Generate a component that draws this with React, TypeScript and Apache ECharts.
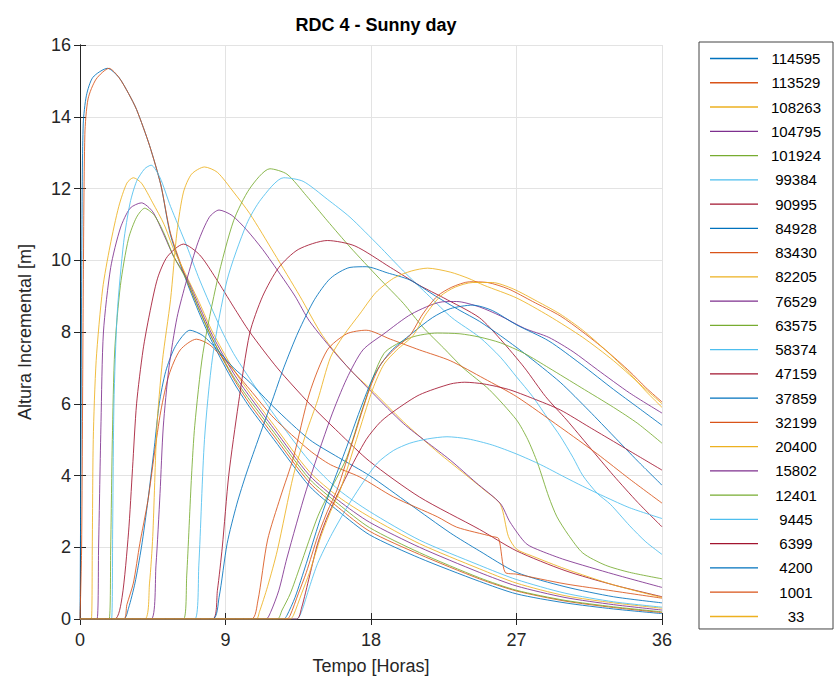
import React, { useEffect, useRef } from "react";
import * as echarts from "echarts";

// Series names (legend order) and colours
const seriesNames = [
  "114595", "113529", "108263", "104795", "101924", "99384", "90995", "84928",
  "83430", "82205", "76529", "63575", "58374", "47159", "37859", "32199",
  "20400", "15802", "12401", "9445", "6399", "4200", "1001", "33",
];
const palette = ["#0072BD", "#D95319", "#EDB120", "#7E2F8E", "#77AC30", "#4DBEEE", "#A2142F"];

const xTicks = [0, 9, 18, 27, 36];
const yTicks = [0, 2, 4, 6, 8, 10, 12, 14, 16];

// [time (h), height (m)]
const s114595 = [[0,0],[0.05,4],[0.12,11],[0.2,13.8],[0.4,14.6],[0.8,15.1],[1.7,15.35],[2.4,15.1],[3,14.65],[3.5,14.2],[4.3,13.2],[5,12.1],[5.6,10.7],[6.6,9.4],[7.4,8.5],[8.2,7.7],[9.5,6.6],[10.5,5.9],[12,5.0],[14.2,3.7],[16,3.0],[17.9,2.35],[21,1.7],[24.7,1.05],[27,0.7],[30,0.45],[33,0.28],[36,0.15]];
const s113529 = [[0,0],[0.1,2],[0.2,9],[0.3,13.5],[0.5,14.5],[1,15.05],[1.8,15.35],[2.4,15.1],[3,14.65],[3.5,14.2],[4.3,13.2],[5,12.1],[5.6,10.75],[6.6,9.45],[7.4,8.6],[8.2,7.8],[9.5,6.7],[10.5,6.0],[12,5.1],[14.2,3.8],[16,3.1],[17.9,2.45],[21,1.8],[24.7,1.12],[27,0.78],[30,0.5],[33,0.32],[36,0.18]];
const s108263 = [[0,0],[0.7,0],[0.76,2],[0.82,5],[1.0,7.2],[1.4,9.2],[1.86,10.4],[2.4,11.5],[2.9,12.15],[3.3,12.3],[3.8,12.15],[4.5,11.6],[5.2,11.0],[5.8,10.3],[6.6,9.55],[7.4,8.8],[8.2,8.0],[9.5,6.95],[10.5,6.3],[12,5.4],[14.2,4.1],[16,3.4],[17.9,2.85],[21,2.1],[24.7,1.4],[27,1.0],[30,0.65],[33,0.45],[36,0.3]];
const s104795 = [[0,0],[1.05,0],[1.15,2],[1.3,5.5],[1.45,8.0],[1.9,9.8],[2.5,10.9],[3.1,11.45],[3.8,11.6],[4.5,11.35],[5.2,10.7],[5.8,10.1],[6.6,9.5],[7.4,8.7],[8.2,7.9],[9.5,6.85],[10.5,6.2],[12,5.3],[14.2,4.0],[16,3.3],[17.9,2.7],[21,2.0],[24.7,1.3],[27,0.92],[30,0.6],[33,0.4],[36,0.25]];
const s101924 = [[0,0],[1.8,0],[1.9,2],[2.0,5.0],[2.15,7.5],[2.5,9.3],[3.0,10.6],[3.5,11.2],[4.0,11.45],[4.6,11.25],[5.2,10.75],[5.8,10.1],[6.6,9.45],[7.4,8.6],[8.2,7.8],[9.5,6.75],[10.5,6.1],[12,5.2],[14.2,3.9],[16,3.2],[17.9,2.55],[21,1.85],[24.7,1.15],[27,0.8],[30,0.52],[33,0.34],[36,0.2]];
const s99384 = [[0,0],[1.95,0],[2.02,2.5],[2.1,6.0],[2.3,8.5],[2.7,10.5],[3.1,11.6],[3.5,12.2],[4.0,12.55],[4.4,12.65],[4.95,12.3],[5.6,11.5],[6.6,10.4],[7.4,9.45],[8.7,8.1],[9.5,7.4],[10.5,6.7],[12,5.7],[14.2,4.4],[16,3.6],[17.9,3.0],[21,2.2],[24.7,1.5],[27,1.1],[30,0.72],[33,0.48],[36,0.33]];
const s90995 = [[0,0],[2.15,0],[2.6,0.6],[3.0,2.4],[3.25,4.2],[3.5,6.0],[3.9,7.5],[4.3,8.5],[4.8,9.5],[5.4,10.1],[6.4,10.45],[7.4,10.15],[8.4,9.5],[9.5,8.7],[10.5,8.0],[12.2,7.0],[14.2,6.0],[16,5.2],[17.9,4.4],[21,3.4],[24.7,2.5],[27,1.9],[30,1.35],[33,0.95],[36,0.62]];
const s84928 = [[0,0],[2.7,0],[3.0,0.3],[3.4,1.0],[3.8,2.0],[4.2,3.3],[4.6,4.8],[4.9,6.0],[5.3,6.9],[5.9,7.6],[6.8,8.05],[7.6,7.9],[8.5,7.5],[9.5,7.0],[10.5,6.6],[12,5.9],[14.2,5.0],[16,4.5],[17.9,4.0],[20.4,3.2],[22.9,2.4],[24.7,1.9],[27,1.3],[30,0.9],[33,0.62],[36,0.45]];
const s83430 = [[0,0],[2.7,0],[2.9,0.4],[3.3,1.0],[3.7,2.1],[4.2,3.3],[4.6,4.6],[5.0,5.8],[5.5,6.8],[6.2,7.5],[7.2,7.8],[8.0,7.65],[9,7.2],[10.5,6.4],[12,5.6],[14.2,4.7],[15.5,4.3],[17.3,3.96],[19.4,3.4],[22.1,2.85],[23.3,2.56],[25.5,2.3],[25.9,2.24],[26.3,1.3],[27,1.25],[30,0.98],[33,0.78],[36,0.58]];
const s82205 = [[0,0],[4.0,0],[4.3,1],[4.5,2.3],[4.75,5.3],[5.1,7.2],[5.6,8.9],[6.0,10.8],[6.4,11.9],[6.9,12.4],[7.7,12.6],[8.5,12.45],[9.5,11.9],[10.5,11.3],[12,10.2],[13.6,9.0],[15,7.9],[16.7,6.95],[18,6.4],[20,5.5],[22,4.7],[23.5,4.15],[25,3.6],[26,3.2],[26.5,2.3],[27,1.95],[28,1.75],[30,1.4],[33,0.95],[36,0.6]];
const s76529 = [[0,0],[4.4,0],[4.7,1.5],[4.95,3.5],[5.15,5.35],[5.5,7.0],[6.0,8.4],[6.6,9.45],[7.3,10.5],[8.0,11.2],[8.6,11.4],[9.4,11.25],[10.3,10.85],[11.3,10.3],[12.4,9.6],[13.3,9.0],[14.2,8.3],[16,7.3],[18.1,6.3],[20,5.45],[21.4,4.95],[22.9,4.43],[24.5,3.8],[26,3.22],[26.6,2.7],[27.6,2.1],[28.5,1.9],[30,1.65],[33,1.25],[36,0.88]];
const s63575 = [[0,0],[6.4,0],[6.6,1.2],[6.9,4],[7.1,5.4],[7.6,7.4],[8.5,9.45],[9.5,11.1],[10.5,12.0],[11.75,12.55],[12.8,12.4],[14,11.8],[15.3,11.1],[16.7,10.37],[18.5,9.5],[20,8.8],[21.2,8.14],[22.5,7.55],[23.7,7.0],[25.3,6.4],[27,5.55],[27.7,5.0],[28.3,4.35],[29,3.4],[29.5,2.85],[30.2,2.35],[31.1,1.84],[32.5,1.5],[34,1.3],[36,1.12]];
const s58374 = [[0,0],[7.1,0],[7.35,1.5],[7.7,5.0],[8.2,7.3],[9.1,9.45],[10.3,11.0],[11.2,11.7],[12.6,12.3],[13.8,12.2],[15.3,11.7],[16.7,11.2],[18.5,10.4],[20,9.7],[21.6,9.0],[23,8.4],[24.7,7.86],[26,7.3],[27,6.75],[28,6.2],[29,5.55],[29.7,5.1],[30.5,4.5],[31.1,4.0],[32,3.5],[32.8,3.2],[34,2.6],[35,2.15],[36,1.8]];
const s47159 = [[0,0],[8.2,0],[8.5,0.8],[8.8,2.0],[9.2,4.0],[9.8,6.0],[10.5,7.97],[11.3,9.0],[12.3,9.8],[13.5,10.3],[15.3,10.55],[17,10.4],[19.2,9.8],[21,9.3],[22.5,8.95],[24.7,8.4],[26,7.8],[27.5,7.0],[28.8,6.2],[30.1,5.55],[31.5,4.8],[33,4.0],[34.5,3.25],[36,2.57]];
const s37859 = [[0,0],[8.2,0],[8.6,0.6],[9.1,2.1],[9.7,3.2],[10.3,4.07],[11.1,5.1],[11.9,6.1],[12.6,7.0],[13.5,8.0],[14.5,8.9],[15.5,9.5],[16.7,9.8],[17.7,9.82],[19,9.65],[20.4,9.45],[22,9.0],[23.5,8.6],[24.7,8.3],[26,7.9],[27.5,7.4],[29.7,6.6],[31.5,5.8],[33,5.1],[34.5,4.4],[36,3.73]];
const s32199 = [[0,0],[10.6,0],[11.0,0.5],[11.6,2.2],[12.4,3.4],[13.2,4.5],[14.2,6.3],[15.3,7.5],[16.5,7.95],[17.7,8.05],[19.2,7.8],[21,7.5],[22.9,7.2],[25,6.7],[27,6.2],[29.7,5.35],[32,4.6],[34,3.9],[36,3.23]];
const s20400 = [[0,0],[10.9,0],[11.1,0.2],[11.6,0.9],[12.2,1.9],[13.2,4.0],[14.0,5.2],[14.7,6.1],[15.5,7.3],[16.3,7.9],[17.3,8.5],[18.3,9.1],[19.4,9.5],[20.5,9.7],[21.5,9.78],[22.9,9.67],[24,9.5],[25,9.3],[27,8.95],[29,8.45],[31.1,7.85],[33,7.2],[35,6.4],[36,6.0]];
const s15802 = [[0,0],[11.5,0],[11.8,0.2],[12.3,0.8],[12.8,1.7],[14,3.6],[15.5,5.6],[16.5,6.7],[17.5,7.5],[18.8,7.95],[20.5,8.5],[22.4,8.84],[23.3,8.85],[24.7,8.7],[26,8.45],[27.5,8.1],[29,7.85],[30.5,7.45],[32,6.95],[34,6.3],[36,5.74]];
const s12401 = [[0,0],[12.2,0],[12.5,0.25],[13.0,0.7],[13.6,1.45],[14.7,2.85],[15.5,3.6],[16.5,4.5],[17.5,5.9],[18.8,7.4],[20.5,7.85],[22.1,7.97],[23.5,7.95],[24.7,7.86],[26,7.7],[27.5,7.4],[29,7.0],[31,6.45],[33,5.9],[34.5,5.45],[36,4.9]];
const s9445 = [[0,0],[13.4,0],[13.7,0.2],[14.2,0.9],[14.7,1.55],[15.5,2.3],[16.5,3.1],[17.5,3.8],[18.4,4.35],[19.4,4.7],[20.4,4.9],[21.5,5.02],[22.7,5.08],[24,5.02],[25.5,4.85],[27,4.6],[28.5,4.3],[30,3.95],[31.1,3.7],[32.5,3.4],[34,3.1],[36,2.8]];
const s6399 = [[0,0],[13.4,0],[13.7,0.3],[14.2,1.2],[14.7,2.1],[15.3,2.85],[16.5,4.0],[17.7,5.0],[18.6,5.5],[19.6,5.85],[21,6.25],[22.9,6.55],[23.8,6.6],[25,6.55],[26.5,6.4],[28,6.15],[29.7,5.83],[31.5,5.35],[33,4.95],[34.5,4.55],[36,4.15]];
const s4200 = [[0,0],[12.6,0],[12.8,0.1],[13.3,0.6],[14,1.55],[14.8,2.7],[15.5,3.6],[16.5,4.8],[17.3,5.8],[18.2,6.8],[19.2,7.45],[20.5,7.95],[21.8,8.4],[22.9,8.65],[24.3,8.75],[25.5,8.6],[27,8.2],[29,7.75],[31,7.1],[33,6.4],[34.5,5.9],[36,5.4]];
const s1001 = [[0,0],[12.8,0],[13.0,0.1],[13.5,0.7],[14.0,1.3],[14.7,2.3],[15.3,3.0],[15.9,3.6],[16.9,5.0],[17.9,6.4],[18.6,7.1],[19.4,7.5],[20.4,7.9],[21.2,8.5],[22.1,9.0],[23,9.25],[24.1,9.4],[25.2,9.38],[26.5,9.2],[28,8.85],[29.7,8.45],[31.1,8.0],[32.5,7.5],[34,6.9],[35,6.45],[36,6.05]];
const s33 = [[0,0],[13.0,0],[13.2,0.1],[13.7,0.7],[14.2,1.3],[14.9,2.3],[15.5,3.0],[16.1,3.6],[17.1,5.0],[18.1,6.4],[18.8,7.1],[19.6,7.5],[20.6,7.9],[21.4,8.5],[22.3,9.0],[23.2,9.25],[24.3,9.38],[25.5,9.38],[26.8,9.2],[28.3,8.85],[29.7,8.5],[31.1,8.05],[32.5,7.5],[34,6.85],[35,6.35],[36,5.9]];

const seriesData = [
  s114595, s113529, s108263, s104795, s101924, s99384, s90995, s84928,
  s83430, s82205, s76529, s63575, s58374, s47159, s37859, s32199,
  s20400, s15802, s12401, s9445, s6399, s4200, s1001, s33,
];

const FONT = "'Liberation Sans', Arial, Helvetica, sans-serif";
const AX = "#262626";

export default function App() {
  const ref = useRef<HTMLDivElement>(null);
  useEffect(() => {
    if (!ref.current) return;
    const chart = echarts.init(ref.current, undefined, { renderer: "svg" });
    const axisCommon = {
      min: 0,
      axisLine: { show: true, lineStyle: { color: AX, width: 1 } },
      axisTick: { show: true, inside: true, length: 6, lineStyle: { color: AX } },
    };
    chart.setOption({
      animation: false,
      backgroundColor: "#ffffff",
      title: {
        text: "RDC 4 - Sunny day",
        left: 371,
        top: 11,
        textAlign: "center",
        textStyle: { fontFamily: FONT, fontSize: 18, fontWeight: "bold", color: "#000" },
      },
      legend: {
        orient: "vertical",
        left: 699,
        top: 42,
        padding: [9, 4, 5, 11],
        icon: "rect",
        itemWidth: 48,
        itemHeight: 1.3,
        itemGap: 9.26,
        itemTextGap: 6,
        borderColor: "#444",
        borderWidth: 1,
        backgroundColor: "#fff",
        data: seriesNames,
        formatter: "{a|{name}}",
        textStyle: {
          fontFamily: FONT,
          rich: { a: { width: 66, align: "center", fontSize: 15, lineHeight: 15, fontFamily: FONT, color: "#000" } },
        },
      },
      grid: { left: 80, right: 178, top: 45, bottom: 68, show: false },
      xAxis: [
        {
          ...axisCommon,
          type: "value",
          max: 36,
          interval: 9,
          name: "Tempo [Horas]",
          nameLocation: "middle",
          nameGap: 38,
          nameTextStyle: { fontFamily: FONT, fontSize: 18, color: AX },
          axisLabel: { margin: 12, fontFamily: FONT, fontSize: 18, color: AX, customValues: xTicks },
          splitLine: { show: true, lineStyle: { color: "#e3e3e3", width: 1 } },
        },
        {
          ...axisCommon,
          type: "value",
          position: "top",
          max: 36,
          interval: 9,
          axisLabel: { show: false },
          splitLine: { show: false },
        },
      ],
      yAxis: [
        {
          ...axisCommon,
          type: "value",
          max: 16,
          interval: 2,
          name: "Altura Incremental [m]",
          nameLocation: "middle",
          nameGap: 46,
          nameTextStyle: { fontFamily: FONT, fontSize: 18, color: AX },
          axisLabel: { margin: 9, fontFamily: FONT, fontSize: 18, color: AX, customValues: yTicks },
          splitLine: { show: true, lineStyle: { color: "#e3e3e3", width: 1 } },
        },
        {
          ...axisCommon,
          type: "value",
          position: "right",
          max: 16,
          interval: 2,
          axisLabel: { show: false },
          splitLine: { show: false },
        },
      ],
      series: seriesNames.map((name, i) => ({
        name,
        type: "line",
        xAxisIndex: 0,
        yAxisIndex: 0,
        data: seriesData[i],
        symbol: "none",
        smooth: 0.25,
        lineStyle: { width: 1, color: palette[i % 7], opacity: 0.85 },
        itemStyle: { color: palette[i % 7] },
        emphasis: { disabled: true },
      })),
    });
    return () => chart.dispose();
  }, []);
  return <div ref={ref} style={{ width: 840, height: 687, position: "absolute", left: 0, top: 0 }} />;
}
